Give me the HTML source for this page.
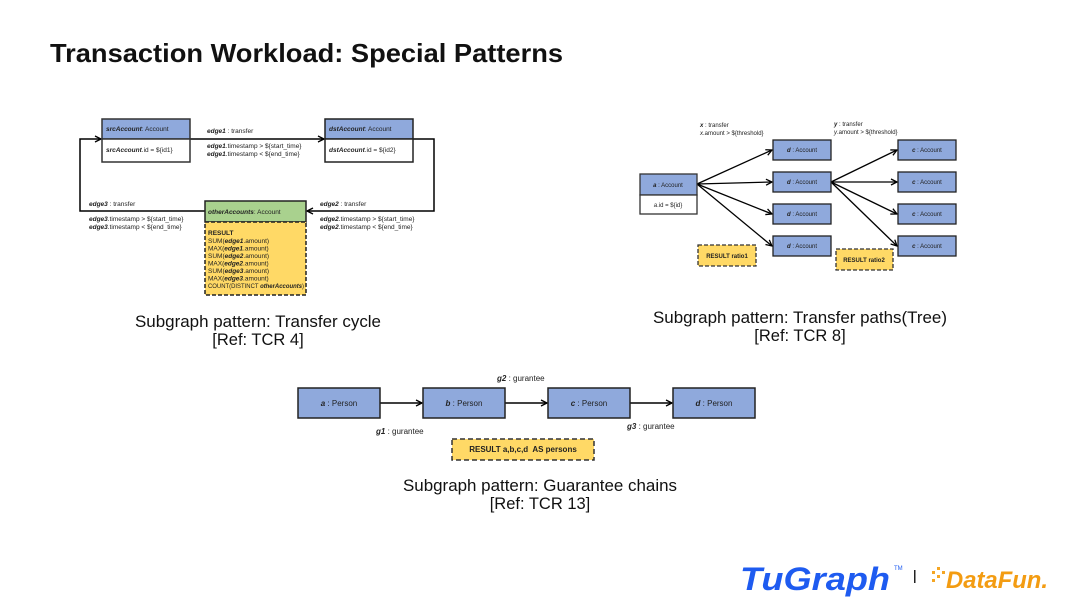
<!DOCTYPE html>
<html><head><meta charset="utf-8"><style>
body{margin:0;background:#fff;width:1080px;height:608px;overflow:hidden;font-family:"Liberation Sans",sans-serif}
</style></head><body>
<svg width="1080" height="608" viewBox="0 0 1080 608" xmlns="http://www.w3.org/2000/svg" font-family="Liberation Sans, sans-serif">
<defs>
<marker id="ar" markerWidth="8" markerHeight="8" refX="7" refY="4" orient="auto" markerUnits="userSpaceOnUse"><path d="M1,1 L7,4 L1,7" fill="none" stroke="#000" stroke-width="1.3"/></marker>
</defs>
<text x="50" y="62" font-size="26" font-weight="bold" fill="#111" textLength="513" lengthAdjust="spacingAndGlyphs">Transaction Workload: Special Patterns</text>

<!-- cycle -->
<g stroke="#000" stroke-width="1.5" fill="none">
<polyline points="205,211 80,211 80,139 101,139" marker-end="url(#ar)"/>
<line x1="190" y1="139" x2="324" y2="139" marker-end="url(#ar)"/>
<polyline points="413,139 434,139 434,211 307,211" marker-end="url(#ar)"/>
</g>
<rect x="102" y="119" width="88" height="20" fill="#8fa9dc" stroke="#333" stroke-width="1.5"/>
<rect x="102" y="139" width="88" height="23" fill="#fff" stroke="#333" stroke-width="1.5"/>
<rect x="325" y="119" width="88" height="20" fill="#8fa9dc" stroke="#222" stroke-width="1.5"/>
<rect x="325" y="139" width="88" height="23" fill="#fff" stroke="#222" stroke-width="1.5"/>
<rect x="205" y="201" width="101" height="21" fill="#a9d18e" stroke="#222" stroke-width="1.5"/>
<rect x="205" y="222" width="101" height="73" fill="#ffd966" stroke="#222" stroke-width="1.5" stroke-dasharray="4,2"/>
<g font-size="6.5" fill="#222">
<text x="106" y="131"><tspan font-weight="bold" font-style="italic">srcAccount</tspan>: Account</text>
<text x="106" y="152"><tspan font-weight="bold" font-style="italic">srcAccount</tspan>.id = ${id1}</text>
<text x="329" y="131"><tspan font-weight="bold" font-style="italic">dstAccount</tspan>: Account</text>
<text x="329" y="152"><tspan font-weight="bold" font-style="italic">dstAccount</tspan>.id = ${id2}</text>
<text x="207" y="133"><tspan font-weight="bold" font-style="italic">edge1</tspan> : transfer</text>
<text x="207" y="148"><tspan font-weight="bold" font-style="italic">edge1</tspan>.timestamp &gt; ${start_time}</text>
<text x="207" y="156"><tspan font-weight="bold" font-style="italic">edge1</tspan>.timestamp &lt; ${end_time}</text>
<text x="89" y="206"><tspan font-weight="bold" font-style="italic">edge3</tspan> : transfer</text>
<text x="89" y="221"><tspan font-weight="bold" font-style="italic">edge3</tspan>.timestamp &gt; ${start_time}</text>
<text x="89" y="229"><tspan font-weight="bold" font-style="italic">edge3</tspan>.timestamp &lt; ${end_time}</text>
<text x="320" y="206"><tspan font-weight="bold" font-style="italic">edge2</tspan> : transfer</text>
<text x="320" y="221"><tspan font-weight="bold" font-style="italic">edge2</tspan>.timestamp &gt; ${start_time}</text>
<text x="320" y="229"><tspan font-weight="bold" font-style="italic">edge2</tspan>.timestamp &lt; ${end_time}</text>
<text x="208" y="214"><tspan font-weight="bold" font-style="italic">otherAccounts</tspan>: Account</text>
<text x="208" y="235" font-weight="bold">RESULT</text>
<text x="208" y="243">SUM(<tspan font-weight="bold" font-style="italic">edge1</tspan>.amount)</text>
<text x="208" y="250.5">MAX(<tspan font-weight="bold" font-style="italic">edge1</tspan>.amount)</text>
<text x="208" y="258">SUM(<tspan font-weight="bold" font-style="italic">edge2</tspan>.amount)</text>
<text x="208" y="265.5">MAX(<tspan font-weight="bold" font-style="italic">edge2</tspan>.amount)</text>
<text x="208" y="273">SUM(<tspan font-weight="bold" font-style="italic">edge3</tspan>.amount)</text>
<text x="208" y="280.5">MAX(<tspan font-weight="bold" font-style="italic">edge3</tspan>.amount)</text>
<text x="208" y="288" textLength="96" lengthAdjust="spacingAndGlyphs">COUNT(DISTINCT <tspan font-weight="bold" font-style="italic">otherAccounts</tspan>)</text>
</g>

<!-- tree -->
<g stroke="#000" stroke-width="1.3" fill="none">
<line x1="697" y1="184" x2="772" y2="150" marker-end="url(#ar)"/>
<line x1="697" y1="184" x2="772" y2="182" marker-end="url(#ar)"/>
<line x1="697" y1="184" x2="772" y2="214" marker-end="url(#ar)"/>
<line x1="697" y1="184" x2="772" y2="246" marker-end="url(#ar)"/>
<line x1="831" y1="182" x2="897" y2="150" marker-end="url(#ar)"/>
<line x1="831" y1="182" x2="897" y2="182" marker-end="url(#ar)"/>
<line x1="831" y1="182" x2="897" y2="214" marker-end="url(#ar)"/>
<line x1="831" y1="182" x2="897" y2="246" marker-end="url(#ar)"/>
</g>
<rect x="640" y="174" width="57" height="21" fill="#8fa9dc" stroke="#333" stroke-width="1.3"/>
<rect x="640" y="195" width="57" height="19" fill="#fff" stroke="#333" stroke-width="1.3"/>
<g fill="#8fa9dc" stroke="#222" stroke-width="1.3">
<rect x="773" y="140" width="58" height="20"/><rect x="773" y="172" width="58" height="20"/>
<rect x="773" y="204" width="58" height="20"/><rect x="773" y="236" width="58" height="20"/>
<rect x="898" y="140" width="58" height="20"/><rect x="898" y="172" width="58" height="20"/>
<rect x="898" y="204" width="58" height="20"/><rect x="898" y="236" width="58" height="20"/>
</g>
<rect x="698" y="245" width="58" height="21" fill="#ffd966" stroke="#333" stroke-width="1.3" stroke-dasharray="4,2"/>
<rect x="836" y="249" width="57" height="21" fill="#ffd966" stroke="#333" stroke-width="1.3" stroke-dasharray="4,2"/>
<g font-size="6" fill="#222">
<text x="668" y="187" text-anchor="middle"><tspan font-weight="bold" font-style="italic">a</tspan> : Account</text>
<text x="668" y="207" text-anchor="middle"><tspan font-style="italic">a</tspan>.id = ${id}</text>
<g text-anchor="middle">
<text x="802" y="152"><tspan font-weight="bold" font-style="italic">d</tspan> : Account</text>
<text x="802" y="184"><tspan font-weight="bold" font-style="italic">d</tspan> : Account</text>
<text x="802" y="216"><tspan font-weight="bold" font-style="italic">d</tspan> : Account</text>
<text x="802" y="248"><tspan font-weight="bold" font-style="italic">d</tspan> : Account</text>
<text x="927" y="152"><tspan font-weight="bold" font-style="italic">c</tspan> : Account</text>
<text x="927" y="184"><tspan font-weight="bold" font-style="italic">c</tspan> : Account</text>
<text x="927" y="216"><tspan font-weight="bold" font-style="italic">c</tspan> : Account</text>
<text x="927" y="248"><tspan font-weight="bold" font-style="italic">c</tspan> : Account</text>
<text x="727" y="258" font-weight="bold">RESULT ratio1</text>
<text x="864" y="262" font-weight="bold">RESULT ratio2</text>
</g>
<text x="700" y="127"><tspan font-weight="bold" font-style="italic">x</tspan> : transfer</text>
<text x="700" y="135"><tspan font-style="italic">x</tspan>.amount &gt; ${threshold}</text>
<text x="834" y="126"><tspan font-weight="bold" font-style="italic">y</tspan> : transfer</text>
<text x="834" y="134"><tspan font-style="italic">y</tspan>.amount &gt; ${threshold}</text>
</g>

<!-- chain -->
<g stroke="#000" stroke-width="1.5" fill="none">
<line x1="380" y1="403" x2="422" y2="403" marker-end="url(#ar)"/>
<line x1="505" y1="403" x2="547" y2="403" marker-end="url(#ar)"/>
<line x1="630" y1="403" x2="672" y2="403" marker-end="url(#ar)"/>
</g>
<g fill="#8fa9dc" stroke="#222" stroke-width="1.5">
<rect x="298" y="388" width="82" height="30"/><rect x="423" y="388" width="82" height="30"/>
<rect x="548" y="388" width="82" height="30"/><rect x="673" y="388" width="82" height="30"/>
</g>
<rect x="452" y="439" width="142" height="21" fill="#ffd966" stroke="#333" stroke-width="1.5" stroke-dasharray="5,3"/>
<g font-size="8" fill="#222">
<g text-anchor="middle">
<text x="339" y="406"><tspan font-weight="bold" font-style="italic">a</tspan> : Person</text>
<text x="464" y="406"><tspan font-weight="bold" font-style="italic">b</tspan> : Person</text>
<text x="589" y="406"><tspan font-weight="bold" font-style="italic">c</tspan> : Person</text>
<text x="714" y="406"><tspan font-weight="bold" font-style="italic">d</tspan> : Person</text>
<text x="523" y="452" font-weight="bold">RESULT a,b,c,d&#160; AS persons</text>
</g>
<text x="497" y="381"><tspan font-weight="bold" font-style="italic">g2</tspan> : gurantee</text>
<text x="376" y="434"><tspan font-weight="bold" font-style="italic">g1</tspan> : gurantee</text>
<text x="627" y="429"><tspan font-weight="bold" font-style="italic">g3</tspan> : gurantee</text>
</g>

<!-- captions -->
<g font-size="16.5" fill="#111" text-anchor="middle">
<text x="258" y="327" textLength="246" lengthAdjust="spacingAndGlyphs">Subgraph pattern: Transfer cycle</text>
<text x="258" y="345">[Ref: TCR 4]</text>
<text x="800" y="323" textLength="294" lengthAdjust="spacingAndGlyphs">Subgraph pattern: Transfer paths(Tree)</text>
<text x="800" y="341">[Ref: TCR 8]</text>
<text x="540" y="491" textLength="274" lengthAdjust="spacingAndGlyphs">Subgraph pattern: Guarantee chains</text>
<text x="540" y="509">[Ref: TCR 13]</text>
</g>

<!-- logos -->
<text x="740" y="590" font-size="32" font-weight="bold" font-style="italic" fill="#1e5bf0" textLength="150" lengthAdjust="spacingAndGlyphs">TuGraph</text>
<text x="894" y="570" font-size="6" fill="#1e5bf0">TM</text>
<rect x="914" y="570" width="1.5" height="13" fill="#222"/>
<g fill="#f5a623">
<rect x="932" y="571" width="3" height="3"/><rect x="937" y="567" width="3" height="3"/><rect x="937" y="575" width="3" height="3"/><rect x="942" y="571" width="3" height="3"/><rect x="932" y="579" width="3" height="3"/>
</g>
<text x="946" y="588" font-size="24" font-weight="bold" font-style="italic" fill="#f39c12" textLength="102" lengthAdjust="spacingAndGlyphs">DataFun.</text>
</svg>
</body></html>
